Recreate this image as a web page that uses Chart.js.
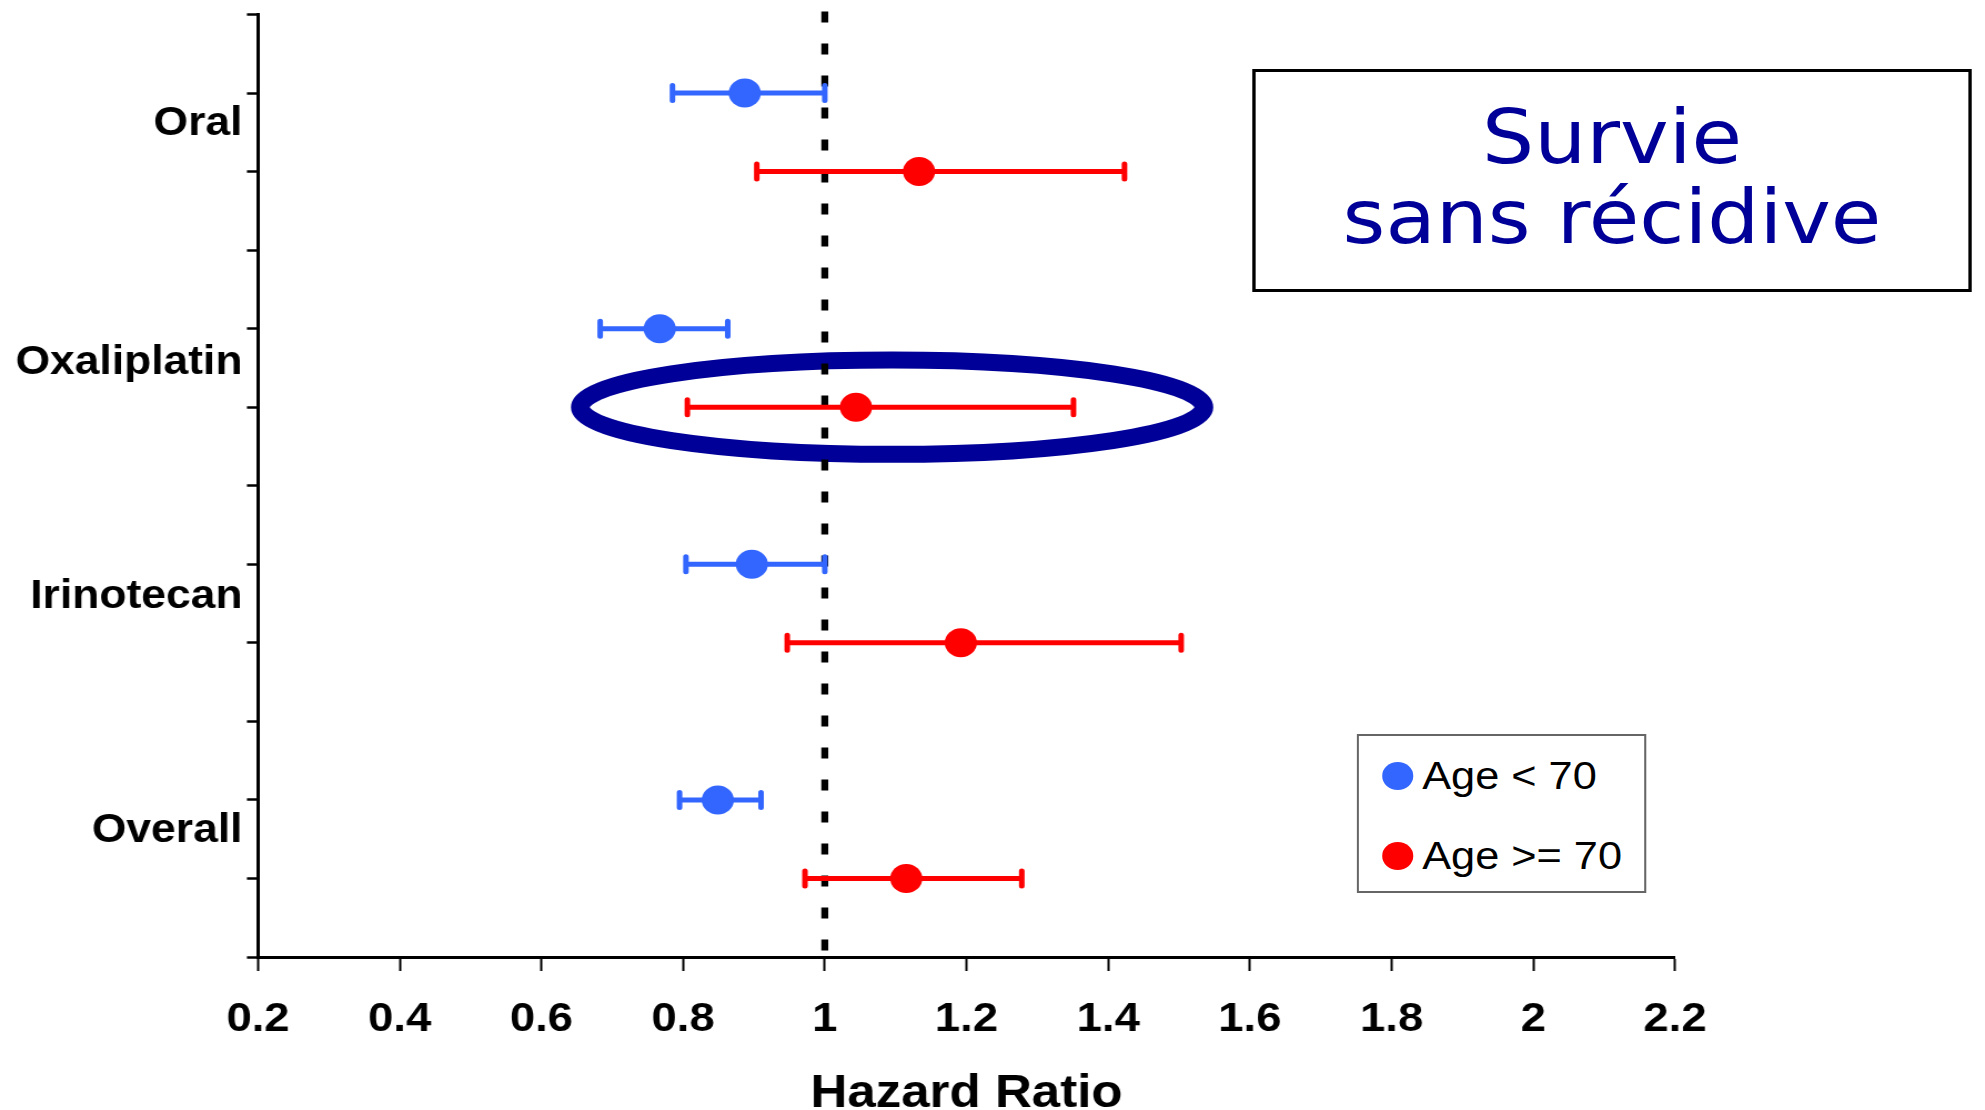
<!DOCTYPE html>
<html lang="fr">
<head>
<meta charset="utf-8">
<title>Survie sans récidive – Hazard Ratio</title>
<script src="https://cdn.jsdelivr.net/npm/chart.js@4"></script>
<style>
  html, body { margin: 0; padding: 0; background: #fff; overflow: hidden; }
  /* the source slide is stretched horizontally, so the whole stage is too */
  #stage { position: absolute; left: 0; top: 0; width: 1788px; height: 1110px; transform: scaleX(1.1102); transform-origin: 0 0; }
  #chart { position: absolute; left: 0; top: 0; }
  .title-box { position: absolute; left: 1128px; top: 69px; width: 648px; height: 223px; box-sizing: border-box; border: 3px solid #000; background: #fff; }
  .title-text { position: absolute; left: 1128px; top: 97px; width: 648px; text-align: center; font: 74px/80px "DejaVu Sans", Verdana, sans-serif; color: #000099; }
  .legend-box { position: absolute; left: 1222px; top: 734px; width: 261px; height: 159px; box-sizing: border-box; border: 2px solid #666; background: #fff; }
  .legend-row { position: absolute; left: 21px; height: 40px; display: flex; align-items: center; font: 39px "Liberation Sans", Arial, sans-serif; color: #000; white-space: nowrap; }
  .legend-dot { width: 28px; height: 28px; border-radius: 50%; margin-right: 8px; }
</style>
</head>
<body>
<div id="stage">
  <canvas id="chart" width="1788" height="1110"></canvas>
  <div class="title-box"></div>
  <div class="title-text">Survie<br>sans récidive</div>
  <div class="legend-box" id="legend"></div>
</div>
<script>
// categories and where their labels sit on the row axis
const categories = ['Oral', 'Oxaliplatin', 'Irinotecan', 'Overall'];
const categoryPos = [10.6, 7.56, 4.58, 1.61];

// row of each group on the y axis
const youngRows = [11, 8, 5, 2];
const oldRows = [10, 7, 4, 1];

// hazard ratios with 95% CI, Age < 70
const youngHR = [0.887, 0.767, 0.897, 0.849];
const youngLow = [0.785, 0.683, 0.804, 0.795];
const youngHigh = [1.0, 0.863, 1.0, 0.91];

// hazard ratios with 95% CI, Age >= 70
const oldHR = [1.133, 1.044, 1.192, 1.115];
const oldLow = [0.904, 0.806, 0.947, 0.972];
const oldHigh = [1.423, 1.351, 1.503, 1.278];

const seriesNames = ['Age < 70', 'Age >= 70'];
const seriesColors = ['#3366ff', '#ff0000'];

const xTicks = [0.2, 0.4, 0.6, 0.8, 1, 1.2, 1.4, 1.6, 1.8, 2, 2.2];
const yTicks = [0, 1, 2, 3, 4, 5, 6, 7, 8, 9, 10, 11, 12];

// highlight ellipse around Oxaliplatin >= 70, in data units
const highlight = { hr: 1.095, row: 7, rx: 0.44, ry: 0.6 };

const FONT = '"Liberation Sans", Arial, sans-serif';

const toPoints = (rows, hr, low, high) =>
    rows.map((row, i) => ({ x: hr[i], y: row, lo: low[i], hi: high[i] }));

const forestMarks = {
    id: 'forestMarks',
    beforeDatasetsDraw(chart) {
        const { ctx, chartArea, scales: { x, y } } = chart;
        ctx.save();

        // ellipse
        const cx = x.getPixelForValue(highlight.hr);
        const cy = y.getPixelForValue(highlight.row);
        ctx.beginPath();
        ctx.ellipse(cx, cy,
            x.getPixelForValue(highlight.hr + highlight.rx) - cx,
            y.getPixelForValue(highlight.row - highlight.ry) - cy,
            0, 0, Math.PI * 2);
        ctx.lineWidth = 17;
        ctx.strokeStyle = '#000099';
        ctx.stroke();

        // reference line at HR = 1
        const x1 = x.getPixelForValue(1);
        ctx.beginPath();
        ctx.setLineDash([11, 21]);
        ctx.lineWidth = 6.3;
        ctx.strokeStyle = '#000';
        ctx.moveTo(x1, chartArea.top - 3);
        ctx.lineTo(x1, chartArea.bottom);
        ctx.stroke();
        ctx.setLineDash([]);

        // error bars
        chart.data.datasets.forEach((ds) => {
            ctx.strokeStyle = ds.backgroundColor;
            ctx.lineWidth = 5;
            ctx.lineCap = 'round';
            ds.data.forEach((p) => {
                const py = y.getPixelForValue(p.y);
                const xl = x.getPixelForValue(p.lo);
                const xh = x.getPixelForValue(p.hi);
                ctx.beginPath();
                ctx.moveTo(xl, py); ctx.lineTo(xh, py);
                ctx.moveTo(xl, py - 7.5); ctx.lineTo(xl, py + 7.5);
                ctx.moveTo(xh, py - 7.5); ctx.lineTo(xh, py + 7.5);
                ctx.stroke();
            });
        });
        ctx.restore();
    }
};

const tickFont = { family: FONT, size: 41, weight: 'bold' };
const categoryFont = { family: FONT, size: 40, weight: 'bold' };

new Chart(document.getElementById('chart'), {
    type: 'scatter',
    data: {
        datasets: [
            {
                label: seriesNames[0],
                data: toPoints(youngRows, youngHR, youngLow, youngHigh),
                backgroundColor: seriesColors[0],
                pointRadius: 14.5, pointHoverRadius: 14.5, borderWidth: 0,
            },
            {
                label: seriesNames[1],
                data: toPoints(oldRows, oldHR, oldLow, oldHigh),
                backgroundColor: seriesColors[1],
                pointRadius: 14.5, pointHoverRadius: 14.5, borderWidth: 0,
            },
        ]
    },
    options: {
        responsive: false,
        animation: false,
        devicePixelRatio: 1,
        layout: { padding: { top: 10, right: 279.3, bottom: 0, left: 0 } },
        plugins: { legend: { display: false }, tooltip: { enabled: false } },
        scales: {
            x: {
                type: 'linear', min: 0.2, max: 2.2,
                afterBuildTicks: (s) => { s.ticks = xTicks.map((v) => ({ value: v })); },
                afterFit: (s) => { s.height = 153; },
                ticks: {
                    callback: (v) => String(+v.toFixed(1)),
                    color: '#000', font: tickFont, padding: 24,
                    maxRotation: 0, autoSkip: false,
                },
                grid: { drawOnChartArea: false, tickLength: 14, tickWidth: 2, tickColor: '#000' },
                border: { color: '#000', width: 3 },
                title: {
                    display: true, text: 'Hazard Ratio', color: '#000', padding: 0,
                    font: { family: FONT, size: 46, weight: 'bold', lineHeight: 0.7 },
                },
            },
            y: {
                type: 'linear', min: 0, max: 12,
                afterBuildTicks: (s) => {
                    s.ticks = [...yTicks, ...categoryPos].sort((a, b) => a - b).map((v) => ({ value: v }));
                },
                afterFit: (s) => { s.width = 232.4; s.paddingTop = 0; s.paddingBottom = 0; },
                ticks: {
                    callback: (v) => {
                        const i = categoryPos.indexOf(v);
                        return i >= 0 ? categories[i] : '';
                    },
                    color: '#000', font: categoryFont, padding: 4, autoSkip: false,
                },
                grid: {
                    drawOnChartArea: false, tickLength: 10, tickWidth: 2.5,
                    tickColor: (c) => (c.tick && categoryPos.includes(c.tick.value) ? 'rgba(0,0,0,0)' : '#000'),
                },
                border: { color: '#000', width: 3 },
            },
        },
    },
    plugins: [forestMarks],
});

// legend box, built from the series
const legend = document.getElementById('legend');
seriesNames.forEach((name, i) => {
    const row = document.createElement('div');
    row.className = 'legend-row';
    row.style.top = `${20 + i * 80}px`;
    row.innerHTML = `<span class="legend-dot" style="background:${seriesColors[i]}"></span><span></span>`;
    row.lastChild.textContent = name;
    legend.appendChild(row);
});
</script>
</body>
</html>
